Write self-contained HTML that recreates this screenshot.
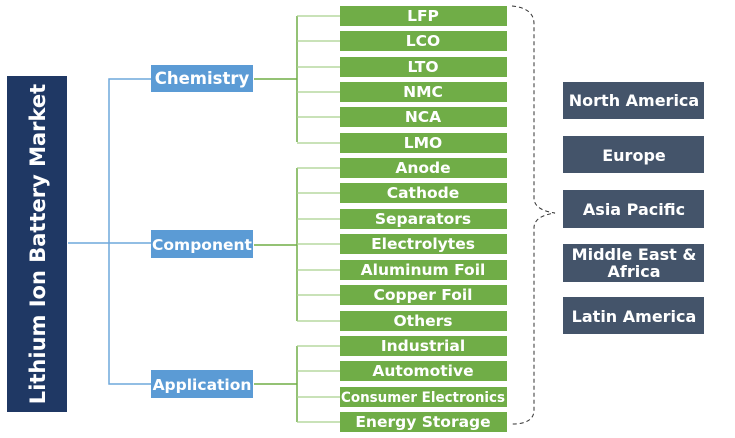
<!DOCTYPE html>
<html><head><meta charset="utf-8"><style>
html,body{margin:0;padding:0;background:#fff;}
svg{display:block;}
text{font-family:"DejaVu Sans","Liberation Sans",sans-serif;font-weight:bold;fill:#fff;}
.title{font-size:21px;}
.mid{font-size:16.5px;}
.mid .s{font-size:15.5px;}
.leaf{font-size:15.5px;}
.leaf .small{font-size:14px;}
.reg{font-size:16px;}
</style></head><body>
<svg width="735" height="438" viewBox="0 0 735 438" xmlns="http://www.w3.org/2000/svg">
<rect x="7" y="76" width="60" height="336" fill="#1F3864"/>
<text class="title" x="0" y="0" text-anchor="middle" transform="translate(45,244) rotate(-90)">Lithium Ion Battery Market</text>
<g stroke="#6FA8DC" stroke-width="1.5" fill="none">
<line x1="68" y1="243" x2="151" y2="243"/>
<polyline points="151,79 109,79 109,384 151,384"/>
</g>
<g fill="#5B9BD5">
<rect x="151" y="65" width="102" height="27"/>
<rect x="151" y="230" width="102" height="28"/>
<rect x="151" y="370" width="102" height="28"/>
</g>
<g class="mid" text-anchor="middle">
<text x="202" y="84">Chemistry</text>
<text class="s" x="202" y="250">Component</text>
<text class="s" x="202" y="390">Application</text>
</g>
<g stroke="#70AD47" stroke-width="1.5" fill="none">
<line x1="254" y1="79" x2="297" y2="79"/>
<line x1="254" y1="245" x2="297" y2="245"/>
<line x1="254" y1="384" x2="297" y2="384"/>
<line x1="297" y1="16" x2="297" y2="142"/>
<line x1="297" y1="168" x2="297" y2="321"/>
<line x1="297" y1="346" x2="297" y2="422"/>
</g>
<g stroke="#A9D18E" stroke-width="1.2">
<line x1="297" y1="16" x2="340" y2="16"/><line x1="297" y1="41" x2="340" y2="41"/><line x1="297" y1="67" x2="340" y2="67"/><line x1="297" y1="92" x2="340" y2="92"/><line x1="297" y1="117" x2="340" y2="117"/><line x1="297" y1="143" x2="340" y2="143"/>
<line x1="297" y1="168" x2="340" y2="168"/><line x1="297" y1="193" x2="340" y2="193"/><line x1="297" y1="219" x2="340" y2="219"/><line x1="297" y1="244" x2="340" y2="244"/><line x1="297" y1="270" x2="340" y2="270"/><line x1="297" y1="295" x2="340" y2="295"/><line x1="297" y1="321" x2="340" y2="321"/>
<line x1="297" y1="346" x2="340" y2="346"/><line x1="297" y1="371" x2="340" y2="371"/><line x1="297" y1="397" x2="340" y2="397"/><line x1="297" y1="422" x2="340" y2="422"/>
</g>
<g fill="#70AD47">
<rect x="340" y="6" width="167" height="20"/><rect x="340" y="31" width="167" height="20"/><rect x="340" y="57" width="167" height="20"/><rect x="340" y="82" width="167" height="20"/><rect x="340" y="107" width="167" height="20"/><rect x="340" y="133" width="167" height="20"/>
<rect x="340" y="158" width="167" height="20"/><rect x="340" y="183" width="167" height="20"/><rect x="340" y="209" width="167" height="20"/><rect x="340" y="234" width="167" height="20"/><rect x="340" y="260" width="167" height="20"/><rect x="340" y="285" width="167" height="20"/><rect x="340" y="311" width="167" height="20"/>
<rect x="340" y="336" width="167" height="20"/><rect x="340" y="361" width="167" height="20"/><rect x="340" y="387" width="167" height="20"/><rect x="340" y="412" width="167" height="20"/>
</g>
<g class="leaf" text-anchor="middle">
<text x="423" y="21">LFP</text>
<text x="423" y="46">LCO</text>
<text x="423" y="72">LTO</text>
<text x="423" y="97">NMC</text>
<text x="423" y="122">NCA</text>
<text x="423" y="148">LMO</text>
<text x="423" y="173">Anode</text>
<text x="423" y="198">Cathode</text>
<text x="423" y="224">Separators</text>
<text x="423" y="249">Electrolytes</text>
<text x="423" y="275">Aluminum Foil</text>
<text x="423" y="300">Copper Foil</text>
<text x="423" y="326">Others</text>
<text x="423" y="351">Industrial</text>
<text x="423" y="376">Automotive</text>
<text class="small" x="423" y="402" textLength="164" lengthAdjust="spacingAndGlyphs">Consumer Electronics</text>
<text x="423" y="427">Energy Storage</text>
</g>
<path d="M512,6 Q534,8 534,24 L534,198 Q534,210 555,213 Q534,216 534,228 L534,410 Q534,424 512,424" stroke="#333" stroke-width="1" fill="none" stroke-dasharray="4,3"/>
<g fill="#44546A">
<rect x="563" y="82" width="141" height="37"/>
<rect x="563" y="136" width="141" height="37"/>
<rect x="563" y="190" width="141" height="38"/>
<rect x="563" y="244" width="141" height="38"/>
<rect x="563" y="297" width="141" height="37"/>
</g>
<g class="reg" text-anchor="middle">
<text x="634" y="106">North America</text>
<text x="634" y="161">Europe</text>
<text x="634" y="215">Asia Pacific</text>
<text x="634" y="260">Middle East &amp;</text>
<text x="634" y="277">Africa</text>
<text x="634" y="322">Latin America</text>
</g>
</svg>
</body></html>
